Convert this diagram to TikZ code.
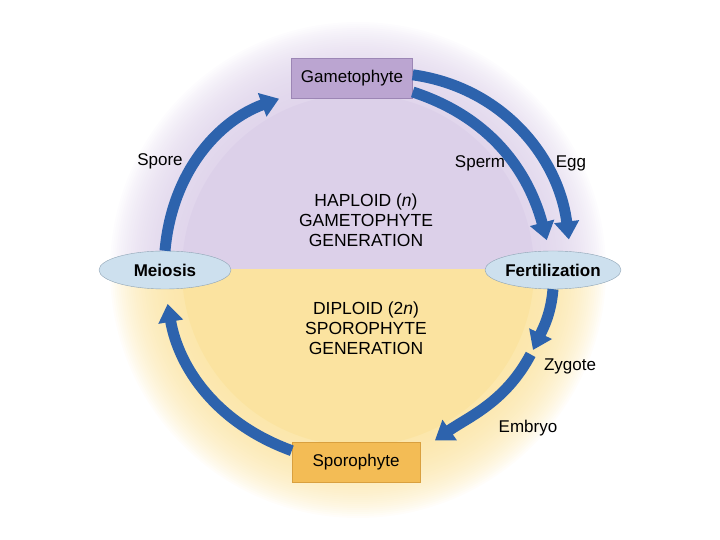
\documentclass[tikz,border=0pt]{standalone}
\usepackage{fontspec}
\setmainfont{Liberation Sans}
\usetikzlibrary{arrows.meta,shapes.geometric}

\definecolor{hapfill}{HTML}{DCD0E9}
\definecolor{dipfill}{HTML}{FBE3A0}
\definecolor{gambox}{HTML}{BBA5D1}
\definecolor{gamline}{HTML}{9C86B5}
\definecolor{sporbox}{HTML}{F3BC55}
\definecolor{sporline}{HTML}{D9A03F}
\definecolor{ovalfill}{HTML}{CDE0EE}
\definecolor{ovalline}{HTML}{8EA3B4}
\definecolor{cycleblue}{HTML}{2D63AD}

\begin{document}
\begin{tikzpicture}[%
        x = 1pt, y = 1pt,
        every node/.style = {font=\fontsize{17}{20}\selectfont, align=center},
        box/.style = {draw, rectangle, minimum width=121pt, minimum height=40pt},
        oval/.style = {draw=ovalline, fill=ovalfill, ellipse, inner sep=0pt,
                       minimum width=132pt, minimum height=38pt,
                       font=\fontsize{17}{20}\selectfont\bfseries},
        lifearrow/.style = {draw=cycleblue, line width=11pt,
                            -{Triangle[length=18pt,width=24pt]}}
    ]
      \useasboundingbox (0,0) rectangle (720,540);
      \coordinate (c) at (358,270);
      % haploid half
      \begin{scope}
        \clip (0,270) rectangle (720,540);
        \foreach \r in {248,246,...,178}
          \fill[hapfill, opacity=0.055] (c) circle [radius=\r];
        \fill[hapfill] (c) circle [radius=176];
      \end{scope}
      % diploid half
      \begin{scope}
        \clip (0,0) rectangle (720,270);
        \foreach \r in {248,246,...,178}
          \fill[dipfill, opacity=0.055] (c) circle [radius=\r];
        \fill[dipfill] (c) circle [radius=176];
      \end{scope}

      \node[font=\fontsize{17.5}{20}\selectfont] (hap) at (366,320)
        {HAPLOID (\textit{n})\\GAMETOPHYTE\\GENERATION};
      \node[font=\fontsize{17.5}{20}\selectfont] (dip) at (366,212)
        {DIPLOID (2\textit{n})\\SPOROPHYTE\\GENERATION};

      \node[box, fill=gambox, draw=gamline] (gam) at (352,462) {Gametophyte};
      \node[box, fill=sporbox, draw=sporline, minimum width=128pt] (spor) at (356,78) {Sporophyte};
      \node[oval] (mei) at (165,270) {Meiosis};
      \node[oval, minimum width=136pt] (fert) at (553,270) {Fertilization};
      \coordinate (zj) at (533,190);

      \node (spore) at (160,379) {Spore};
      \node (sperm) at (480,377) {Sperm};
      \node (egg) at (571,377) {Egg};
      \node (zyg) at (570,174) {Zygote};
      \node (emb) at (528,112) {Embryo};

      \draw[lifearrow, shorten >=13pt] (mei.north) to[out=85, in=200] (gam.195);
      \draw[lifearrow, shorten >=11pt] (gam.-13) to[out=-18, in=105] (fert.100);
      \draw[lifearrow, shorten >=12pt] (gam.3) to[out=-8, in=97] (fert.47);
      \draw[lifearrow] (fert.south) to[out=-95, in=65] (zj);
      \draw[lifearrow, shorten <=5pt, shorten >=18pt] (zj) to[out=-118, in=35] (spor.10);
      \draw[lifearrow, shorten >=15pt] (spor.170) to[out=160, in=-80] (mei.south);
    \end{tikzpicture}
\end{document}
